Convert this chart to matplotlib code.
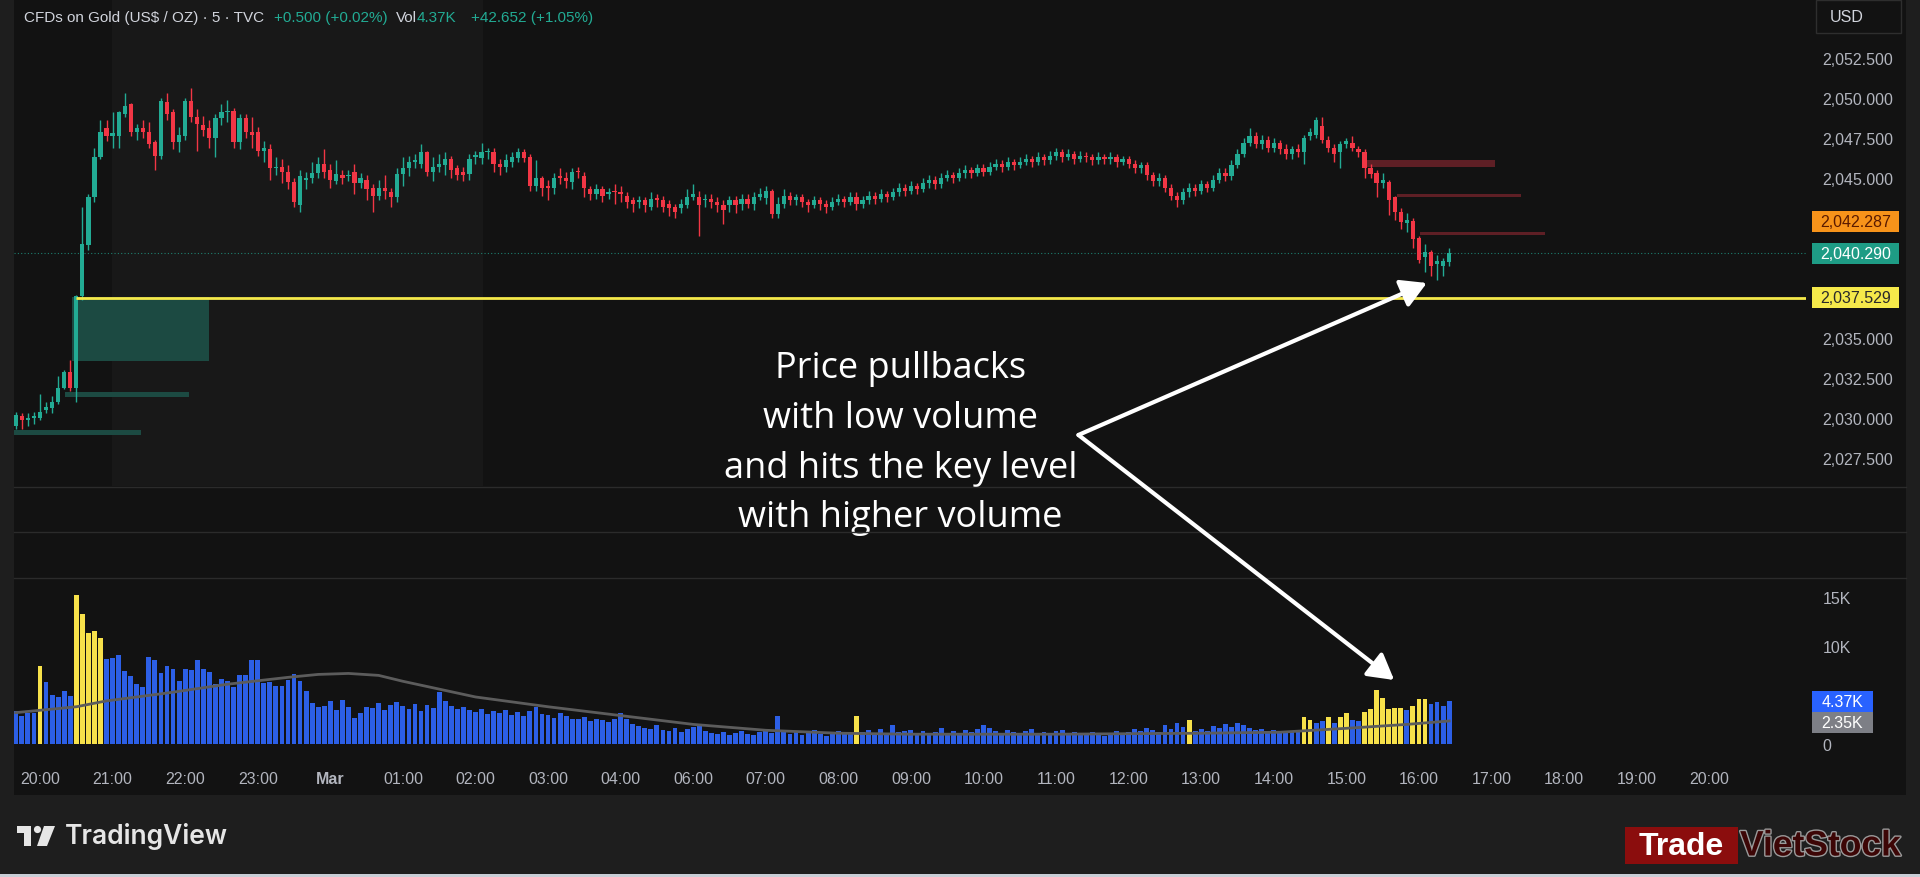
import matplotlib.pyplot as plt
import matplotlib.patheffects as pe
from matplotlib.patches import Rectangle, Polygon, Circle, ConnectionPatch
from matplotlib.transforms import blended_transform_factory

# ---- data: 5-minute candles, gold CFD (bar 0 = 19:40, bars skip the 05:00 break) ----
opens = [
    2029.5, 2030.1, 2029.9, 2030.0, 2030.0, 2030.5, 2030.6, 2031.0, 2031.9, 2032.9, 2031.9, 2037.6,
    2040.8, 2043.8, 2046.3, 2048.1, 2047.6, 2047.6, 2049.0, 2049.6, 2047.9, 2048.1, 2047.9, 2047.25,
    2046.4, 2049.75, 2049.1, 2047.25, 2047.6, 2049.8, 2048.8, 2048.3, 2048.1, 2047.5, 2048.75, 2049.1,
    2049.2, 2047.25, 2048.75, 2047.9, 2047.9, 2046.7, 2046.8, 2045.6, 2045.7, 2045.4, 2044.75, 2043.3,
    2044.9, 2045.0, 2045.3, 2045.9, 2045.5, 2044.8, 2045.2, 2045.1, 2045.4, 2044.7, 2044.9, 2044.4,
    2043.9, 2044.4, 2044.1, 2043.8, 2045.25, 2045.6, 2046.0, 2045.9, 2046.6, 2045.4, 2045.7, 2045.8,
    2046.2, 2045.6, 2045.4, 2045.25, 2046.3, 2046.25, 2046.6, 2046.6, 2045.9, 2045.7, 2046.0, 2046.25,
    2046.6, 2046.3, 2044.5, 2045.0, 2044.5, 2044.4, 2045.1, 2045.0, 2044.75, 2045.4, 2045.1, 2044.3,
    2044.0, 2044.3, 2044.0, 2044.15, 2044.15, 2043.9, 2043.6, 2043.5, 2043.6, 2043.2, 2043.75, 2043.6,
    2043.4, 2043.2, 2043.1, 2043.3, 2043.8, 2043.8, 2043.6, 2043.7, 2043.5, 2043.3, 2043.3, 2043.6,
    2043.4, 2043.7, 2043.4, 2043.8, 2043.75, 2044.2, 2042.75, 2043.4, 2043.9, 2043.6, 2043.8, 2043.5,
    2043.3, 2043.6, 2043.4, 2043.2, 2043.5, 2043.7, 2043.5, 2043.8, 2043.4, 2043.6, 2043.9, 2043.7,
    2044.0, 2043.8, 2044.1, 2044.4, 2044.2, 2044.5, 2044.3, 2044.7, 2044.9, 2044.6, 2045.0, 2045.2,
    2045.0, 2045.3, 2045.5, 2045.3, 2045.6, 2045.4, 2045.7, 2045.9, 2045.7, 2046.0, 2045.8, 2046.0,
    2046.2, 2046.0, 2046.3, 2046.1, 2046.4, 2046.6, 2046.3, 2046.5, 2046.2, 2046.4, 2046.3, 2046.1,
    2046.3, 2046.2, 2046.3, 2046.0, 2046.2, 2045.9, 2045.6, 2045.8, 2045.2, 2044.8, 2045.0, 2044.4,
    2043.9, 2043.6, 2044.1, 2044.4, 2044.2, 2044.6, 2044.4, 2044.9, 2045.3, 2045.1, 2045.8, 2046.5,
    2047.2, 2047.6, 2047.1, 2047.4, 2046.9, 2047.2, 2046.8, 2046.5, 2046.8, 2046.6, 2047.6, 2047.7,
    2048.25, 2047.4, 2046.9, 2046.6, 2047.1, 2047.2, 2046.8, 2046.6, 2045.6, 2045.3, 2044.7, 2044.75,
    2043.8, 2042.9, 2042.2, 2042.3, 2041.25, 2040.06, 2040.4, 2039.6, 2039.5, 2039.75,
]
highs = [
    2030.4, 2030.3, 2030.3, 2030.4, 2031.5, 2031.0, 2031.4, 2032.6, 2033.0, 2033.6, 2037.7, 2043.2,
    2044.0, 2046.9, 2048.6, 2048.6, 2049.1, 2049.2, 2050.3, 2049.7, 2048.4, 2048.6, 2048.5, 2047.4,
    2050.0, 2050.3, 2049.3, 2048.2, 2050.0, 2050.6, 2049.3, 2048.9, 2048.6, 2049.0, 2049.6, 2049.9,
    2049.4, 2049.0, 2049.0, 2048.8, 2048.2, 2047.3, 2047.1, 2046.3, 2046.2, 2045.8, 2045.0, 2045.5,
    2045.4, 2046.0, 2046.3, 2046.8, 2045.9, 2046.1, 2045.5, 2045.5, 2045.9, 2045.3, 2045.2, 2044.6,
    2044.9, 2045.2, 2044.4, 2045.6, 2046.3, 2046.4, 2046.5, 2047.1, 2046.7, 2046.3, 2046.5, 2046.6,
    2046.4, 2045.8, 2045.7, 2046.5, 2046.7, 2047.2, 2046.9, 2046.9, 2046.2, 2046.5, 2046.6, 2046.9,
    2046.8, 2046.5, 2046.1, 2045.1, 2044.9, 2045.3, 2045.6, 2045.4, 2045.6, 2045.7, 2045.4, 2044.5,
    2044.6, 2044.5, 2044.4, 2044.6, 2044.5, 2044.1, 2043.8, 2043.9, 2043.8, 2044.1, 2044.0, 2043.9,
    2043.6, 2043.4, 2043.7, 2044.3, 2044.6, 2044.2, 2044.0, 2044.0, 2043.8, 2043.6, 2043.9, 2043.9,
    2044.0, 2044.0, 2044.1, 2044.4, 2044.5, 2044.3, 2043.8, 2044.3, 2044.1, 2044.0, 2044.0, 2043.7,
    2043.9, 2043.8, 2043.6, 2043.8, 2044.0, 2043.9, 2044.1, 2044.1, 2043.9, 2044.2, 2044.1, 2044.3,
    2044.2, 2044.4, 2044.7, 2044.6, 2044.8, 2044.7, 2045.0, 2045.2, 2045.1, 2045.3, 2045.5, 2045.4,
    2045.6, 2045.8, 2045.7, 2045.9, 2045.9, 2046.0, 2046.2, 2046.1, 2046.3, 2046.2, 2046.3, 2046.5,
    2046.4, 2046.6, 2046.5, 2046.7, 2046.9, 2046.8, 2046.8, 2046.7, 2046.7, 2046.6, 2046.5, 2046.6,
    2046.5, 2046.6, 2046.5, 2046.4, 2046.4, 2046.1, 2046.0, 2046.0, 2045.4, 2045.3, 2045.2, 2044.6,
    2044.1, 2044.4, 2044.7, 2044.6, 2044.9, 2044.8, 2045.2, 2045.6, 2045.6, 2046.1, 2046.8, 2047.5,
    2048.1, 2047.9, 2047.7, 2047.6, 2047.5, 2047.4, 2047.1, 2047.0, 2047.1, 2047.7, 2048.1, 2048.8,
    2048.8, 2047.6, 2047.1, 2047.3, 2047.5, 2047.6, 2047.0, 2046.8, 2045.9, 2045.5, 2045.3, 2044.9,
    2043.9, 2043.1, 2042.8, 2042.5, 2041.4, 2040.9, 2040.5, 2040.2, 2040.0, 2040.6,
]
lows = [
    2029.3, 2029.3, 2029.5, 2029.6, 2029.9, 2030.3, 2030.3, 2030.9, 2031.8, 2031.7, 2031.0, 2037.4,
    2040.5, 2043.5, 2046.2, 2047.3, 2046.9, 2046.9, 2048.8, 2047.6, 2047.4, 2047.5, 2046.9, 2045.5,
    2046.2, 2048.6, 2046.8, 2046.6, 2047.4, 2048.5, 2046.7, 2047.6, 2046.9, 2046.3, 2048.3, 2048.5,
    2046.9, 2046.8, 2047.5, 2046.9, 2046.4, 2046.0, 2044.9, 2045.2, 2044.7, 2044.3, 2043.2, 2042.9,
    2044.3, 2044.7, 2045.0, 2045.0, 2044.4, 2044.6, 2044.6, 2044.8, 2044.0, 2044.4, 2043.6, 2042.9,
    2043.6, 2043.7, 2043.2, 2043.5, 2044.5, 2045.1, 2045.6, 2045.6, 2045.1, 2044.8, 2045.4, 2045.2,
    2045.0, 2044.9, 2044.8, 2044.9, 2045.9, 2045.9, 2046.2, 2045.4, 2045.2, 2045.4, 2045.7, 2046.0,
    2046.0, 2044.2, 2044.2, 2043.9, 2043.6, 2044.0, 2044.6, 2044.4, 2044.3, 2045.0, 2043.8, 2043.6,
    2043.7, 2043.5, 2043.7, 2043.4, 2043.5, 2043.1, 2042.9, 2043.1, 2042.9, 2043.0, 2043.2, 2042.9,
    2042.6, 2042.5, 2042.8, 2043.1, 2043.6, 2041.4, 2043.2, 2043.1, 2042.9, 2042.1, 2042.9, 2042.8,
    2043.0, 2043.1, 2043.0, 2043.6, 2043.4, 2042.5, 2042.5, 2043.1, 2043.3, 2043.3, 2043.2, 2042.9,
    2043.1, 2043.0, 2042.8, 2043.0, 2043.3, 2043.2, 2043.3, 2043.0, 2043.1, 2043.4, 2043.4, 2043.5,
    2043.5, 2043.6, 2043.9, 2043.9, 2044.0, 2044.0, 2044.1, 2044.4, 2044.3, 2044.4, 2044.8, 2044.7,
    2044.8, 2045.0, 2045.0, 2045.1, 2045.1, 2045.2, 2045.5, 2045.4, 2045.5, 2045.5, 2045.6, 2045.8,
    2045.7, 2045.8, 2045.8, 2045.9, 2046.1, 2046.0, 2046.1, 2045.9, 2046.0, 2046.0, 2045.8, 2045.9,
    2045.9, 2045.9, 2045.7, 2045.8, 2045.6, 2045.3, 2045.3, 2044.9, 2044.5, 2044.5, 2044.1, 2043.6,
    2043.2, 2043.4, 2043.8, 2043.9, 2044.0, 2044.1, 2044.2, 2044.7, 2044.8, 2044.9, 2045.6, 2046.3,
    2047.0, 2046.9, 2046.8, 2046.6, 2046.6, 2046.5, 2046.2, 2046.2, 2046.3, 2045.9, 2047.4, 2047.5,
    2047.2, 2046.6, 2046.0, 2045.6, 2046.9, 2046.7, 2046.3, 2045.0, 2045.0, 2043.8, 2044.4, 2042.7,
    2042.4, 2041.8, 2041.6, 2040.6, 2039.7, 2039.1, 2038.9, 2038.6, 2038.9, 2039.5,
]
closes = [
    2030.2, 2029.9, 2030.0, 2030.1, 2030.4, 2030.7, 2031.0, 2031.9, 2032.9, 2031.9, 2037.6, 2040.9,
    2043.8, 2046.3, 2047.9, 2047.6, 2047.8, 2049.1, 2049.5, 2047.9, 2048.1, 2047.9, 2047.1, 2046.4,
    2049.8, 2049.0, 2047.25, 2047.7, 2049.8, 2048.8, 2048.4, 2048.0, 2047.5, 2048.75, 2049.1, 2049.2,
    2047.25, 2048.75, 2047.9, 2047.7, 2046.7, 2046.9, 2045.6, 2045.7, 2045.4, 2044.75, 2043.5, 2045.1,
    2045.0, 2045.3, 2045.9, 2045.4, 2044.9, 2045.25, 2045.0, 2045.1, 2044.7, 2045.0, 2044.3, 2043.9,
    2044.4, 2044.2, 2043.8, 2045.25, 2045.6, 2046.0, 2046.1, 2046.6, 2045.4, 2045.7, 2045.9, 2046.2,
    2045.5, 2045.2, 2045.2, 2046.2, 2046.45, 2046.6, 2046.7, 2045.9, 2045.7, 2046.1, 2046.3, 2046.6,
    2046.25, 2044.5, 2045.0, 2044.4, 2044.4, 2045.0, 2045.0, 2044.8, 2045.4, 2045.35, 2044.4, 2044.0,
    2044.3, 2043.9, 2044.1, 2044.1, 2044.0, 2043.5, 2043.4, 2043.6, 2043.3, 2043.7, 2043.6, 2043.2,
    2043.1, 2042.9, 2043.4, 2043.8, 2044.0, 2043.3, 2043.7, 2043.5, 2043.3, 2043.0, 2043.6, 2043.3,
    2043.7, 2043.4, 2043.8, 2044.0, 2044.2, 2042.75, 2043.4, 2043.9, 2043.6, 2043.8, 2043.5, 2043.3,
    2043.6, 2043.4, 2043.2, 2043.5, 2043.7, 2043.5, 2043.8, 2043.4, 2043.6, 2043.9, 2043.7, 2044.0,
    2043.8, 2044.1, 2044.4, 2044.2, 2044.5, 2044.3, 2044.7, 2044.9, 2044.6, 2045.0, 2045.2, 2045.0,
    2045.3, 2045.5, 2045.3, 2045.6, 2045.4, 2045.7, 2045.9, 2045.7, 2046.0, 2045.8, 2046.0, 2046.2,
    2046.0, 2046.3, 2046.1, 2046.4, 2046.6, 2046.3, 2046.5, 2046.2, 2046.4, 2046.3, 2046.1, 2046.3,
    2046.2, 2046.3, 2046.0, 2046.2, 2045.9, 2045.6, 2045.8, 2045.2, 2044.8, 2045.0, 2044.4, 2043.9,
    2043.6, 2044.1, 2044.4, 2044.2, 2044.6, 2044.4, 2044.9, 2045.3, 2045.1, 2045.8, 2046.5, 2047.2,
    2047.6, 2047.1, 2047.4, 2046.9, 2047.2, 2046.8, 2046.5, 2046.8, 2046.6, 2047.5, 2047.9, 2048.6,
    2047.4, 2046.9, 2046.5, 2047.1, 2047.3, 2046.9, 2046.6, 2045.6, 2045.25, 2044.7, 2044.9, 2043.6,
    2042.9, 2042.25, 2042.35, 2041.2, 2039.9, 2040.4, 2039.5, 2039.8, 2039.8, 2040.29,
]
# volume in thousands
volumes = [
    3.4, 2.9, 3.2, 3.2, 8.0, 6.3, 5.0, 4.8, 5.4, 4.9, 15.2, 13.3,
    11.3, 11.5, 10.8, 8.7, 8.8, 9.1, 7.4, 6.9, 6.1, 5.8, 8.9, 8.6,
    7.2, 8.0, 7.7, 6.4, 7.7, 7.6, 8.6, 7.7, 7.3, 6.1, 6.6, 6.4,
    5.8, 7.0, 7.0, 8.6, 8.6, 6.2, 6.3, 5.9, 5.9, 6.5, 7.1, 6.4,
    5.4, 4.2, 3.8, 3.9, 4.4, 3.5, 4.5, 3.8, 2.65, 3.2, 3.8, 3.7,
    4.2, 3.5, 4.0, 4.3, 3.9, 3.6, 4.1, 3.4, 4.0, 3.7, 5.3, 4.4,
    3.9, 3.6, 3.8, 3.5, 3.3, 3.6, 3.1, 3.4, 3.2, 3.5, 3.0, 3.3,
    2.9, 3.4, 3.8, 3.1, 3.0, 2.7, 3.2, 2.9, 2.6, 2.5, 2.8, 2.3,
    2.6, 2.4, 2.2, 2.5, 3.2, 2.6, 2.0, 1.8, 1.6, 1.5, 1.9, 1.4,
    1.3, 1.6, 1.2, 1.5, 1.7, 1.9, 1.3, 1.1, 1.0, 1.2, 0.9, 1.1,
    1.3, 1.0, 0.9, 1.2, 1.4, 1.1, 2.9, 1.3, 1.0, 1.2, 0.9, 1.1,
    1.4, 1.0, 0.8, 1.2, 1.3, 1.1, 1.0, 2.9, 1.2, 1.4, 1.1, 1.5,
    1.0, 1.9, 1.2, 1.3, 1.4, 1.1, 1.3, 1.0, 1.2, 1.6, 1.1, 1.3,
    1.0, 1.4, 1.2, 1.5, 1.9, 1.6, 1.3, 1.1, 1.4, 1.2, 1.0, 1.3,
    1.5, 1.1, 1.2, 1.0, 1.3, 1.4, 1.1, 1.2, 0.9, 1.0, 1.2, 1.1,
    0.8, 1.0, 1.3, 1.1, 1.2, 1.5, 1.3, 1.6, 1.4, 1.2, 1.9, 1.5,
    2.1, 1.7, 2.4, 1.3, 1.5, 1.3, 1.8, 1.6, 2.0, 1.7, 2.1, 1.9,
    1.6, 1.4, 1.5, 1.3, 1.4, 1.3, 1.26, 1.36, 1.36, 2.72, 2.45, 2.1,
    2.3, 2.72, 2.1, 2.8, 3.16, 2.45, 2.3, 3.3, 3.57, 5.54, 4.66, 3.57,
    3.7, 3.7, 3.47, 3.9, 4.56, 4.56, 4.08, 4.25, 3.9, 4.37,
]
# bars whose volume is flagged (yellow)
hot_bars = [4, 10, 11, 12, 13, 14, 139, 194, 213, 214, 217, 219, 220,
            223, 224, 225, 226, 227, 228, 229, 231, 232, 233]
# volume moving average (thousands)
ma_bars = [0, 10, 15, 25, 35, 45, 50, 55, 60, 64, 76, 88, 100, 112, 124,
           136, 148, 160, 172, 184, 196, 209, 220, 230, 237]
ma_values = [3.2, 3.8, 4.4, 5.2, 6.1, 6.8, 7.1, 7.2, 7.0, 6.4, 4.8, 3.8, 2.9, 2.0, 1.4,
             1.1, 1.0, 1.0, 1.0, 1.05, 1.1, 1.2, 1.6, 2.0, 2.35]

tick_bars = [4, 16, 28, 40, 52, 64, 76, 88, 100, 112, 124, 136, 148, 160, 172, 184,
             196, 208, 220, 232, 244, 256, 268, 280]
tick_labels = ['20:00', '21:00', '22:00', '23:00', 'Mar', '01:00', '02:00', '03:00', '04:00',
               '06:00', '07:00', '08:00', '09:00', '10:00', '11:00', '12:00', '13:00', '14:00',
               '15:00', '16:00', '17:00', '18:00', '19:00', '20:00']
# scale labels that the price tags do not cover
price_ticks = [2027.5, 2030.0, 2032.5, 2035.0, 2045.0, 2047.5, 2050.0, 2052.5]

key_level = 2037.529
last_price = 2040.290
other_level = 2042.287
# zones: (first bar, last bar, low, high)
green_zones = [(9.3, 31.9, 2033.56, 2037.56), (8.2, 28.7, 2031.3, 2031.6), (-0.3, 20.7, 2028.94, 2029.25)]
red_zones = [(223.2, 244.5, 2045.69, 2046.12), (228.4, 248.8, 2043.81, 2044.0), (232.2, 252.8, 2041.44, 2041.62)]

assert len(opens) == len(highs) == len(lows) == len(closes) == len(volumes) == 238

# ---- style ----
W, H = 1920, 878
BG = '#121212'
PANEL = '#1e1e1e'
UP, DOWN = '#22ab94', '#f23645'
TXT = '#b2b5be'
plt.rcParams['font.family'] = ['Liberation Sans', 'DejaVu Sans']

fig = plt.figure(figsize=(W / 100, H / 100), dpi=100)
fig.patch.set_facecolor(PANEL)


def px(x0, y0, x1, y1):
    # pixel box (top-left origin) -> figure fraction rect
    return [x0 / W, 1 - y1 / H, (x1 - x0) / W, (y1 - y0) / H]


bg = fig.add_axes(px(14, 0, 1906, 796))
bg.set_facecolor(BG)
bg.set_xticks([])
bg.set_yticks([])
for s in bg.spines.values():
    s.set_visible(False)

bars = list(range(len(closes)))
xlim = (-0.3, 296.0)

# ---- price pane ----
ax = fig.add_axes(px(14, 0, 1806, 487))
ax.set_facecolor('none')
ax.set_xlim(*xlim)
ax.set_ylim(2025.75, 2056.19)
for s in ax.spines.values():
    s.set_visible(False)
ax.set_xticks([])
ax.yaxis.tick_right()
ax.set_yticks(price_ticks, [f'{v:,.3f}' for v in price_ticks])
ax.tick_params(axis='y', length=0, pad=12, labelcolor=TXT, labelsize=11.5)

ax.axvspan(15.9, 77.3, color='#181818', zorder=0, lw=0)

for b0, b1, lo, hi in green_zones:
    ax.add_patch(Rectangle((b0, lo), b1 - b0, hi - lo, facecolor='#1c4a42', lw=0, zorder=1))
for b0, b1, lo, hi in red_zones:
    ax.add_patch(Rectangle((b0, lo), b1 - b0, hi - lo, facecolor='#5e1f25', lw=0, zorder=1))

colors = [UP if c >= o else DOWN for o, c in zip(opens, closes)]
ax.vlines(bars, lows, highs, colors=colors, lw=1, zorder=3)
body_lo = [min(o, c) for o, c in zip(opens, closes)]
body_h = [max(abs(c - o), 0.07) for o, c in zip(opens, closes)]
ax.bar(bars, body_h, bottom=body_lo, width=0.7, color=colors, lw=0, zorder=4)

ax.axhline(last_price, color=UP, ls=(0, (1, 2)), lw=0.8, alpha=0.7, zorder=2)
ax.hlines(key_level, 10, xlim[1], color='#f5e94a', lw=2, zorder=5)

tr = blended_transform_factory(ax.transAxes, ax.transData)


def price_tag(value, face, fg):
    h = 21 / 16
    ax.add_patch(Rectangle((1.0034, value - h / 2), 0.0485, h, transform=tr, facecolor=face,
                           lw=0, clip_on=False, zorder=6))
    ax.text(1.0276, value, f'{value:,.3f}', transform=tr, ha='center', va='center',
            color=fg, fontsize=11.5, clip_on=False, zorder=7)


price_tag(other_level, '#f7931a', '#5a1a00')
price_tag(last_price, '#1e9c85', 'white')
price_tag(key_level, '#f5e94a', '#2a2a2a')

ax.text(146.25, 2028.45, 'Price pullbacks\nwith low volume\nand hits the key level\nwith higher volume',
        ha='center', va='center', color='white', fontsize=26, linespacing=1.51,
        family=['Open Sans', 'DejaVu Sans'], zorder=8)

arrow = dict(arrowstyle='-|>,head_length=0.7,head_width=0.4', color='white', lw=3,
             mutation_scale=22, shrinkA=0, shrinkB=0)
ax.annotate('', xy=(233.3, 2038.44), xytext=(175.7, 2028.94), arrowprops=arrow, zorder=8)

# ---- volume pane ----
av = fig.add_axes(px(14, 578, 1806, 760))
av.set_facecolor('none')
av.set_xlim(*xlim)
av.set_ylim(-1531, 17041)
for s in av.spines.values():
    s.set_visible(False)
vcolors = ['#f7e14a' if i in hot_bars else '#2c5fe6' for i in bars]
av.bar(bars, [v * 1000 for v in volumes], width=0.8, color=vcolors, lw=0, zorder=2)
av.plot(ma_bars, [v * 1000 for v in ma_values], color='#5c5c5c', lw=2, zorder=3)
av.yaxis.tick_right()
# the 5K label sits under the volume tags, so it is left blank
av.set_yticks([0, 5000, 10000, 15000], ['0', '', '10K', '15K'])
av.tick_params(axis='y', length=0, pad=12, labelcolor=TXT, labelsize=11.5)
av.set_xticks(tick_bars, tick_labels)
av.tick_params(axis='x', length=0, pad=8.5, labelcolor=TXT, labelsize=11.5)
for lab in av.get_xticklabels():
    if lab.get_text() == 'Mar':
        lab.set_fontweight('bold')

vtr = blended_transform_factory(av.transAxes, av.transData)
vh = 21 * 102.04
for val, txt, face in [(4370, '4.37K', '#2962ff'), (4370 - vh, '2.35K', '#7d7f86')]:
    av.add_patch(Rectangle((1.0034, val - vh / 2), 0.0340, vh, transform=vtr, facecolor=face,
                           lw=0, clip_on=False, zorder=6))
    av.text(1.0204, val, txt, transform=vtr, ha='center', va='center', color='white',
            fontsize=11.5, clip_on=False, zorder=7)

con = ConnectionPatch(xyA=(175.7, 2028.94), coordsA=ax.transData, xyB=(227.9, 6530),
                      coordsB=av.transData, **arrow)
con.set_zorder(20)
fig.add_artist(con)

# ---- decoration overlay in pixel coordinates ----
ov = fig.add_axes([0, 0, 1, 1])
ov.set_xlim(0, W)
ov.set_ylim(H, 0)
ov.axis('off')
ov.patch.set_alpha(0)

for y in (487.5, 532.5, 578.5):
    ov.plot([14, 1906], [y, y], color='#2b2b2b', lw=1)

ov.add_patch(Rectangle((1816, 1), 85, 33, facecolor=BG, edgecolor='#2e2e2e', lw=1))
ov.text(1830, 18, 'USD', color='#d1d4dc', fontsize=11.5, va='center')

ov.text(24, 18, 'CFDs on Gold (US$ / OZ) · 5 · TVC', color='#d1d4dc', fontsize=11, va='center')
ov.text(274, 18, '+0.500 (+0.02%)', color=UP, fontsize=11, va='center')
ov.text(396, 18, 'Vol', color='#d1d4dc', fontsize=11, va='center')
ov.text(417, 18, '4.37K', color=UP, fontsize=11, va='center')
ov.text(471, 18, '+42.652 (+1.05%)', color=UP, fontsize=11, va='center')

# TradingView logo
ov.add_patch(Polygon([(17, 827), (31, 827), (31, 847), (24, 847), (24, 834), (17, 834)],
                     closed=True, facecolor='#e6e6e6', lw=0))
ov.add_patch(Circle((37.5, 830.5), 3.6, facecolor='#e6e6e6', lw=0))
ov.add_patch(Polygon([(44, 827), (55, 827), (47, 847), (37, 847)], closed=True,
                     facecolor='#e6e6e6', lw=0))
ov.text(65, 837, 'TradingView', color='#e6e6e6', fontsize=19, fontweight='semibold',
        family=['Inter', 'DejaVu Sans'], va='center')

# TradeVietStock watermark
ov.add_patch(Rectangle((1625, 828), 113, 37, facecolor='#8b0d0d', lw=0))
ov.text(1681, 847, 'Trade', color='white', fontsize=23, fontweight='bold', ha='center', va='center')
ov.text(1740, 847, 'VietStock', color='#3d0606', fontsize=25.5, fontweight='bold', va='center',
        path_effects=[pe.withStroke(linewidth=2, foreground='#9a9a9a')])

ov.add_patch(Rectangle((0, 875), W, 3, facecolor='#c9ced6', lw=0))

fig.savefig('out.png', dpi=100, facecolor=fig.get_facecolor())
